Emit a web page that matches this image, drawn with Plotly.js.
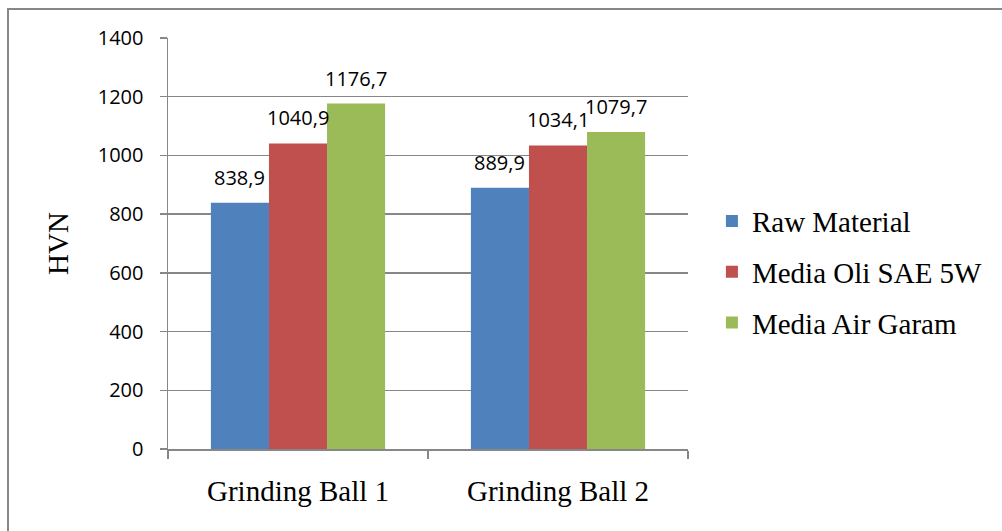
<!DOCTYPE html>
<html>
<head>
<meta charset="utf-8">
<script src="https://cdn.plot.ly/plotly-3.0.1.min.js"></script>
<style>
  html, body { margin: 0; padding: 0; background: #ffffff; }
  #wrap { position: relative; width: 1002px; height: 531px; overflow: hidden; }
  #chart { position: absolute; left: 0; top: 0; width: 1002px; height: 531px; }
  #frame { position: absolute; left: 7px; top: 8px; width: 1100px; height: 600px;
           border-left: 2px solid #878787; border-top: 2px solid #878787; pointer-events: none; }
</style>
</head>
<body>
<div id="wrap">
  <div id="chart"></div>
  <div id="frame"></div>
</div>
<script>
// Hardness (HVN) of grinding balls per treatment medium
const categories = ["Grinding Ball 1", "Grinding Ball 2"];
const seriesNames = ["Raw Material", "Media Oli SAE 5W", "Media Air Garam"];
const rawMaterial = [838.9, 889.9];
const mediaOli = [1040.9, 1034.1];
const mediaAirGaram = [1176.7, 1079.7];
const yTicks = [0, 200, 400, 600, 800, 1000, 1200, 1400];

const seriesValues = [rawMaterial, mediaOli, mediaAirGaram];
const colors = ["#4F81BD", "#C0504D", "#9BBB59"];
const bargap = 0.33;
const labelFont = { family: "Open Sans, sans-serif", size: 20, color: "#000000" };
const serifFont = "Liberation Serif, Times New Roman, serif";

const fmt = v => v.toFixed(1).replace(".", ",");

const traces = seriesValues.map((vals, j) => ({
  type: "bar",
  name: seriesNames[j],
  x: categories,
  y: vals,
  marker: { color: colors[j], line: { width: 0 } },
  legendgroup: "g" + j,
  hoverinfo: "skip"
}));

// Value labels above each bar, positioned on the category axis
const barWidth = (1 - bargap) / seriesValues.length;
const annotations = [];
seriesValues.forEach((vals, j) => {
  vals.forEach((v, i) => {
    annotations.push({
      xref: "x", yref: "y",
      x: i + (j - 1) * barWidth,
      y: v,
      text: fmt(v),
      showarrow: false,
      xanchor: "center",
      yanchor: "bottom",
      yshift: 10,
      font: labelFont
    });
  });
});

const layout = {
  width: 1002,
  height: 531,
  margin: { l: 168, r: 314, t: 38, b: 82 },
  paper_bgcolor: "rgba(0,0,0,0)",
  plot_bgcolor: "rgba(0,0,0,0)",
  barmode: "group",
  bargap: bargap,
  bargroupgap: 0,
  showlegend: true,
  legend: {
    x: 1.046, xanchor: "left",
    y: 0.43, yanchor: "middle",
    traceorder: "grouped",
    tracegroupgap: 10,
    font: { family: serifFont, size: 29, color: "#000000" },
    bgcolor: "rgba(0,0,0,0)"
  },
  xaxis: {
    type: "category",
    range: [-0.5, 1.5],
    showline: true,
    linecolor: "#878787",
    linewidth: 1.5,
    ticks: "outside",
    tickson: "boundaries",
    ticklen: 8,
    tickcolor: "#878787",
    tickwidth: 1.5,
    ticklabelstandoff: 16,
    tickfont: { family: serifFont, size: 29, color: "#000000" },
    showgrid: false,
    zeroline: false,
    fixedrange: true
  },
  yaxis: {
    range: [0, 1400],
    tickvals: yTicks,
    ticktext: yTicks.map(String),
    showline: true,
    linecolor: "#878787",
    linewidth: 1.5,
    ticks: "outside",
    ticklen: 7,
    tickcolor: "#878787",
    tickwidth: 1.5,
    ticklabelstandoff: 12,
    tickfont: labelFont,
    showgrid: true,
    gridcolor: "#878787",
    gridwidth: 1.5,
    zeroline: false,
    title: {
      text: "HVN",
      font: { family: serifFont, size: 29, color: "#000000" },
      standoff: 20
    },
    fixedrange: true
  },
  annotations: annotations
};

Plotly.newPlot("chart", traces, layout, { displayModeBar: false, staticPlot: true });
</script>
</body>
</html>
